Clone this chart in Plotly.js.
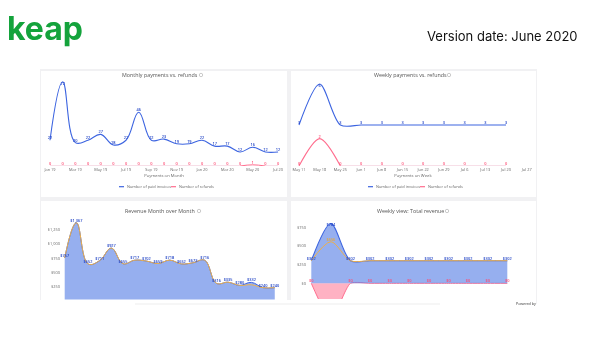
<!DOCTYPE html>
<html><head><meta charset="utf-8">
<script src="https://cdn.plot.ly/plotly-3.0.1.min.js"></script>
<style>html,body{margin:0;padding:0;background:#fff}#c{width:600px;height:354px;filter:blur(0.35px)}</style>
</head><body><div id="c"></div>
<script>
const months=['Jan 19','Feb 19','Mar 19','Apr 19','May 19','Jun 19','Jul 19','Aug 19','Sep 19','Oct 19','Nov 19','Dec 19','Jan 20','Feb 20','Mar 20','Apr 20','May 20','Jun 20','Jul 20'];
const monthTicks=['Jan 19','Mar 19','May 19','Jul 19','Sep 19','Nov 19','Jan 20','Mar 20','May 20','Jul 20'];
const paidMonthly=[22,72,20,22,27,18,22,46,22,23,19,19,22,17,17,12,16,12,12];
const refundsMonthly=[0,0,0,0,0,0,0,0,0,0,0,0,0,0,0,0,1,0,0];
const weeks=['May 11','May 18','May 25','Jun 1','Jun 8','Jun 15','Jun 22','Jun 29','Jul 6','Jul 13','Jul 20','Jul 27'];
const paidWeekly=[3,6,3,3,3,3,3,3,3,3,3,null];
const refundsWeekly=[0,2,0,0,0,0,0,0,0,0,0,null];
const revMonthly=[757,1367,652,711,927,655,717,702,659,718,652,673,716,316,335,280,332,240,240];
const netMonthly=[757,1367,652,711,927,655,717,702,659,718,652,673,716,316,335,280,290,240,240];
const revMonthlyLabels=['$757','$1,367','$652','$711','$927','$655','$717','$702','$659','$718','$652','$673','$716','$316','$335','$280','$332','$240','$240'];
const refundMonthlyLabels=['$0','$0','$0','$0','$0','$0','$0','$0','$0','$0','$0','$0','$0','$0','$0','$0','','$0','$0'];
const refundMonthlyRevenue=[0,0,0,0,0,0,0,0,0,0,0,0,0,0,0,0,0,0,0];
const weekRev=['May 11','May 18','May 25','Jun 1','Jun 8','Jun 15','Jun 22','Jun 29','Jul 6','Jul 13','Jul 20'];
const revWeekly=[302,800,302,302,302,302,302,302,302,302,302];
const netWeekly=[302,556,302,302,302,302,302,302,302,302,302];
const refundWeekly=[0,-480,0,0,0,0,0,0,0,0,0];
const revWeeklyLabels=['$302','$784','$302','$302','$302','$302','$302','$302','$302','$302','$302'];
const netWeeklyLabels=['','$556','','','','','','','','',''];
const refundWeeklyLabels=['$0','','$0','$0','$0','$0','$0','$0','$0','$0','$0'];
const zeroWeekly=[0,0,0,0,0,0,0,0,0,0,0];
const yTicksMonthly=[250,500,750,1000,1250];
const yTicksWeekly=[0,250,500,750];
const fmt=v=>'$'+v.toLocaleString('en-US');

const BLUE='#3c64e0',PINK='#ff6d8e',PALE='#f7dfe8',ORANGE='#eeb04a',FILL='rgba(96,134,230,0.66)',DK='#1c3fc4',RED='#ff4a72';
const LBL='Open Sans, sans-serif';
const line=(c,w,s)=>({color:c,width:w,shape:'spline',smoothing:s||1.15});
const nearNonZero=a=>a.map((v,i)=>(v||a[i-1]||a[i+1])?v:null);
const zerosOnly=a=>a.map(v=>v===0?0:null);
const tp=(n,peak,pos)=>Array.from({length:n},(_,i)=>i===peak?pos:'top center');
const lf=c=>({size:3.9,color:c,family:LBL,weight:600});

const traces=[
 {x:months,y:zerosOnly(refundsMonthly),xaxis:'x',yaxis:'y',mode:'lines',line:{color:PALE,width:2}},
 {x:months,y:nearNonZero(refundsMonthly),xaxis:'x',yaxis:'y',mode:'lines',line:line(PINK,1)},
 {x:months,y:refundsMonthly,xaxis:'x',yaxis:'y',mode:'text',text:refundsMonthly.map(String),textposition:'top center',textfont:lf(RED)},
 {x:months,y:paidMonthly,xaxis:'x',yaxis:'y',mode:'lines',line:line(BLUE,1.1)},
 {x:months,y:paidMonthly,xaxis:'x',yaxis:'y',mode:'text',text:paidMonthly.map(String),textposition:tp(19,1,'bottom center'),textfont:lf(DK)},

 {x:weeks,y:zerosOnly(refundsWeekly),xaxis:'x2',yaxis:'y2',mode:'lines',line:{color:PALE,width:2}},
 {x:weeks,y:nearNonZero(refundsWeekly),xaxis:'x2',yaxis:'y2',mode:'lines',line:line(PINK,1.1,0.85)},
 {x:weeks,y:refundsWeekly,xaxis:'x2',yaxis:'y2',mode:'text',text:refundsWeekly.map(v=>v==null?'':String(v)),textposition:'top center',textfont:lf(RED)},
 {x:weeks,y:paidWeekly,xaxis:'x2',yaxis:'y2',mode:'lines',line:line(BLUE,1.1,0.85)},
 {x:weeks,y:paidWeekly,xaxis:'x2',yaxis:'y2',mode:'text',text:paidWeekly.map(v=>v==null?'':String(v)),textposition:tp(12,1,'bottom center'),textfont:lf(DK)},

 {x:months,y:revMonthly,xaxis:'x3',yaxis:'y3',mode:'lines',fill:'tozeroy',fillcolor:FILL,line:line(BLUE,1)},
 {x:months,y:netMonthly,xaxis:'x3',yaxis:'y3',mode:'lines',line:line(ORANGE,1)},
 {x:months,y:revMonthly,xaxis:'x3',yaxis:'y3',mode:'text',text:revMonthlyLabels,textposition:'top center',textfont:lf(DK)},
 {x:months,y:refundMonthlyRevenue,xaxis:'x3',yaxis:'y3',mode:'text',text:refundMonthlyLabels,textposition:'top center',textfont:lf(RED)},

 {x:weekRev,y:refundWeekly,xaxis:'x4',yaxis:'y4',mode:'lines',fill:'tozeroy',fillcolor:'rgba(255,170,188,0.9)',line:line(PINK,1,0.6)},
 {x:weekRev,y:revWeekly,xaxis:'x4',yaxis:'y4',mode:'lines',fill:'tozeroy',fillcolor:FILL,line:line(BLUE,1.1,0.85)},
 {x:weekRev,y:netWeekly,xaxis:'x4',yaxis:'y4',mode:'lines',line:line(ORANGE,1,0.85)},
 {x:weekRev,y:netWeekly,xaxis:'x4',yaxis:'y4',mode:'text',text:netWeeklyLabels,textposition:'top center',textfont:lf('#e8a838')},
 {x:weekRev,y:revWeekly,xaxis:'x4',yaxis:'y4',mode:'text',text:revWeeklyLabels,textposition:tp(11,1,'bottom center'),textfont:lf(DK)},
 {x:weekRev,y:zeroWeekly,xaxis:'x4',yaxis:'y4',mode:'text',text:refundWeeklyLabels,textposition:'top center',textfont:lf(RED)}
];
traces.forEach(t=>{t.showlegend=false;t.hoverinfo='skip';t.cliponaxis=t.mode==='lines';});

const W=600,H=354;
const px=x=>x/W, py=y=>1-y/H;
const tickFont={size:3.9,color:'#666',family:LBL};
function xAx(l,r,first,step,anchor,vals,title){
 return {domain:[px(l),px(r)],range:[(l-first)/step,(r-first)/step],type:'category',anchor,showgrid:false,zeroline:false,showline:false,ticks:'',
  tickmode:vals?'array':undefined,tickvals:vals||undefined,ticktext:vals||undefined,showticklabels:!!vals,tickfont:tickFont,tickangle:0,
  title:title?{text:title,font:{size:4.2,color:'#666',family:LBL},standoff:3}:undefined};
}
function yAx(t,b,zero,perUnit,anchor,vals){
 return {domain:[py(b),py(t)],range:[(zero-b)/perUnit,(zero-t)/perUnit],anchor,showgrid:false,zeroline:false,showline:false,ticks:'',
  tickmode:vals?'array':undefined,tickvals:vals||undefined,ticktext:vals?vals.map(fmt):undefined,showticklabels:!!vals,tickfont:tickFont};
}
const rect=(x0,y0,x1,y1,c)=>({type:'rect',xref:'paper',yref:'paper',layer:'below',x0:px(x0),x1:px(x1),y0:py(y0),y1:py(y1),fillcolor:c,line:{width:0}});
const icon=(x,y)=>({type:'circle',xref:'paper',yref:'paper',x0:px(x-1.7),x1:px(x+1.7),y0:py(y+1.7),y1:py(y-1.7),line:{color:'#aaa',width:0.6},fillcolor:'#fff'});
const key=(x0,x1,y,c)=>({type:'line',xref:'paper',yref:'paper',x0:px(x0),x1:px(x1),y0:py(y),y1:py(y),line:{color:c,width:1.2}});
const note=(text,x,y,size,color,anchor,extra)=>Object.assign({text,xref:'paper',yref:'paper',x:px(x),y:py(y),showarrow:false,xanchor:anchor||'center',yanchor:'middle',font:{size,color,family:LBL}},extra||{});

const layout={
 width:W,height:H,margin:{l:0,r:0,t:0,b:0},paper_bgcolor:'#fff',plot_bgcolor:'rgba(0,0,0,0)',showlegend:false,
 xaxis:xAx(45,283,50,12.67,'y',monthTicks,'Payments on Month'),
 yaxis:yAx(78,166,166,1.17,'x'),
 xaxis2:xAx(293,533,299,20.7,'y2',weeks,'Payments on Week'),
 yaxis2:yAx(78,166,166,13.67,'x2'),
 xaxis3:xAx(61,280,64.7,11.67,'y3'),
 yaxis3:yAx(216,299.5,301.5,14.4/250,'x3',yTicksMonthly),
 xaxis4:xAx(307,530,311.3,19.6,'y4'),
 yaxis4:yAx(216,299,283.3,18.7/250,'x4',yTicksWeekly),
 shapes:[
  rect(40,69,537,300,'#f1f1f3'),
  rect(41,71,287,197,'#fff'),rect(291,71,536,197,'#fff'),
  rect(41,201,287,300,'#fff'),rect(291,201,536,300,'#fff'),
  rect(135,303,440,305,'#f6f6f6'),rect(536,300,537,304,'#f1f1f3'),
  icon(201,75),icon(449,75),icon(199,211),icon(447,211),
  key(119,124,186.7,BLUE),key(171,176,186.7,PINK),
  key(368,373,186.7,BLUE),key(420,425,186.7,PINK)
 ],
 annotations:[
  note('keap',5,28,32,'#14a33c','left',{font:{size:32,color:'#14a33c',family:'Inter, sans-serif',weight:700}}),
  note('Version date: June 2020',502,36,13,'#111','center',{font:{size:13,color:'#111',family:'Inter, sans-serif'}}),
  note('Monthly payments vs. refunds',160,75,5.35,'#555'),
  note('Weekly payments vs. refunds',410,75,5.35,'#555'),
  note('Revenue Month over Month',160,211,5.35,'#555'),
  note('Weekly view: Total revenue',410,211,5.35,'#555'),
  note('Number of paid invoices',125,186.7,3.9,'#666','left'),
  note('Number of refunds',177,186.7,3.9,'#666','left'),
  note('Number of paid invoices',374,186.7,3.9,'#666','left'),
  note('Number of refunds',426,186.7,3.9,'#666','left'),
  note('Powered by',514,303.5,3.6,'#333','left')
 ]
};
Plotly.newPlot('c',traces,layout,{staticPlot:true,displayModeBar:false});
</script></body></html>
